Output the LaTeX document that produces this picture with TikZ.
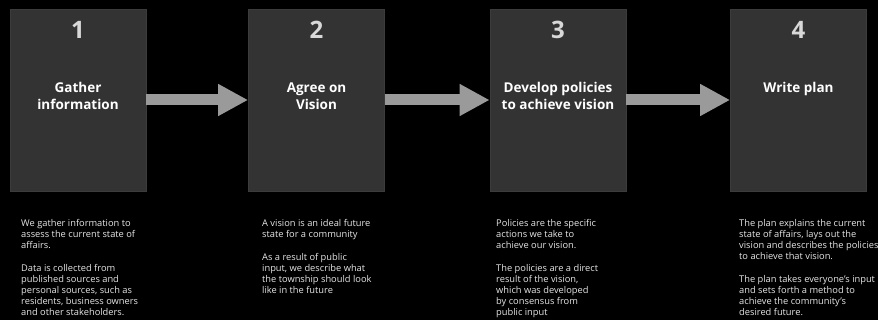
\documentclass[tikz,border=0pt]{standalone}
\usepackage{fontspec}
\setmainfont{Open Sans}
\usetikzlibrary{arrows.meta}
\definecolor{boxfill}{HTML}{333333}
\definecolor{boxline}{HTML}{3C3C3C}
\definecolor{arrowgray}{HTML}{9A9A9A}
\definecolor{numgray}{HTML}{D8D8D8}
\definecolor{bodytext}{HTML}{E6E6E6}
\tikzset{
  stepbox/.style={fill=boxfill, draw=boxline, line width=0.8pt, minimum width=136pt, minimum height=182pt, inner sep=0pt},
  stepnum/.style={text=numgray, font=\fontsize{24}{26}\selectfont\bfseries, inner sep=0pt},
  steptitle/.style={text=white, font=\fontsize{13.5}{17}\selectfont\bfseries, align=center, anchor=north, inner sep=0pt},
  bodynote/.style={text=bodytext, font=\fontsize{9.3}{11}\selectfont, align=left, anchor=north west, inner sep=0pt},
  flow/.style={draw=arrowgray, line width=11pt, -{Triangle[length=30pt,width=30pt]}, color=arrowgray}
}
\begin{document}
\begin{tikzpicture}[x=1pt,y=-1pt]
\fill[black] (0,0) rectangle (878,320);
\useasboundingbox (0,0) rectangle (878,320);
\node[stepbox] (b1) at (78,100) {};
\node[stepbox] (b2) at (316.5,100) {};
\node[stepbox] (b3) at (558,100) {};
\node[stepbox] (b4) at (798.5,100) {};
\node[stepnum] (n1) at (78,30) {1};
\node[stepnum] (n2) at (316.5,30) {2};
\node[stepnum] (n3) at (558,30) {3};
\node[stepnum] (n4) at (798.5,30) {4};
\node[steptitle] (t1) at (78,82.5) {Gather\\information};
\node[steptitle] (t2) at (316.5,82.5) {Agree on\\Vision};
\node[steptitle] (t3) at (558,82.5) {Develop policies\\to achieve vision};
\node[steptitle] (t4) at (798.5,82.5) {Write plan};
\draw[flow] (b1.east) -- (b2.west);
\draw[flow] (b2.east) -- (b3.west);
\draw[flow] (b3.east) -- (b4.west);
\node[bodynote] (d1) at (21,219.5) {We gather information to\\assess the current state of\\affairs.\\[12pt]Data is collected from\\published sources and\\personal sources, such as\\residents, business owners\\and other stakeholders.};
\node[bodynote] (d2) at (262,219.5) {A vision is an ideal future\\state for a community\\[12pt]As a result of public\\input, we describe what\\the township should look\\like in the future};
\node[bodynote] (d3) at (496,219.5) {Policies are the specific\\actions we take to\\achieve our vision.\\[12pt]The policies are a direct\\result of the vision,\\which was developed\\by consensus from\\public input};
\node[bodynote] (d4) at (739,219.5) {The plan explains the current\\state of affairs, lays out the\\vision and describes the policies\\to achieve that vision.\\[12pt]The plan takes everyone's input\\and sets forth a method to\\achieve the community's\\desired future.};
\end{tikzpicture}
\end{document}
